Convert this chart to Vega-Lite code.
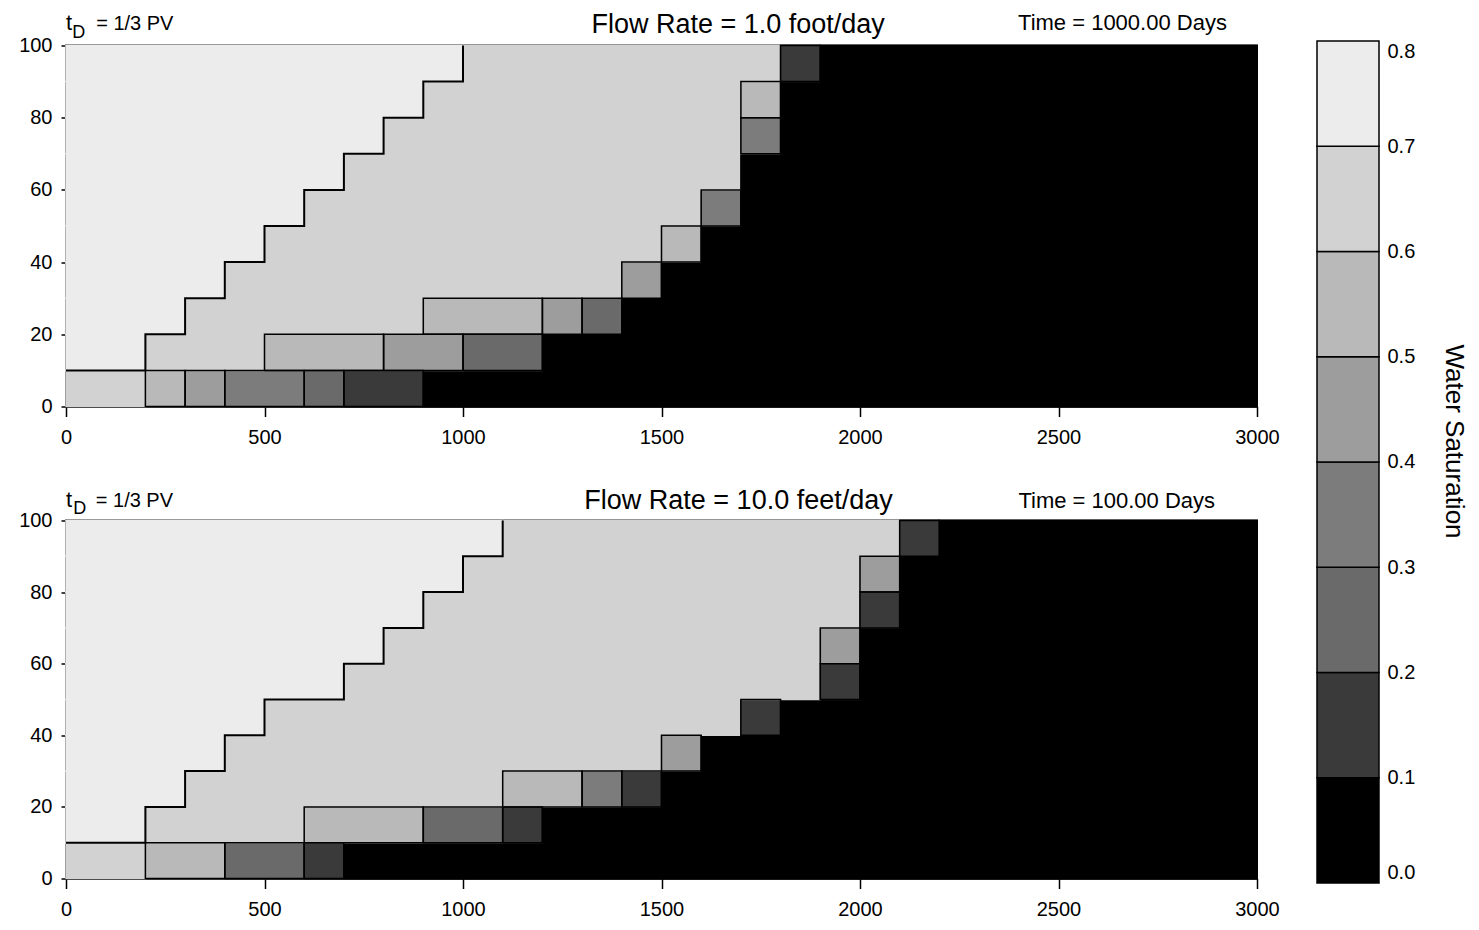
{
  "$schema": "https://vega.github.io/schema/vega-lite/v6.json",
  "background": "white",
  "padding": {"left": 17, "top": 9, "right": 5, "bottom": 5},
  "spacing": 35,
  "center": true,
  "config": {
    "font": "Liberation Sans",
    "view": {"stroke": "black", "strokeWidth": 2},
    "axis": {"grid": false, "domainColor": "black", "domainWidth": 1.5, "tickColor": "black", "tickWidth": 1.5, "labelColor": "black", "labelFontSize": 20, "labelFont": "Liberation Sans", "titleColor": "black", "titleFont": "Liberation Sans", "titleFontWeight": "normal", "zindex": 1},
    "text": {"font": "Liberation Sans", "color": "black"}
  },
  "datasets": {
    "cells": [
      {"p":"t","y0":0,"y1":10,"x0":0,"x1":200,"s":0.65},{"p":"t","y0":0,"y1":10,"x0":200,"x1":300,"s":0.55},{"p":"t","y0":0,"y1":10,"x0":300,"x1":400,"s":0.45},{"p":"t","y0":0,"y1":10,"x0":400,"x1":600,"s":0.35},{"p":"t","y0":0,"y1":10,"x0":600,"x1":700,"s":0.25},{"p":"t","y0":0,"y1":10,"x0":700,"x1":900,"s":0.15},{"p":"t","y0":0,"y1":10,"x0":900,"x1":3000,"s":0.05},
      {"p":"t","y0":10,"y1":20,"x0":0,"x1":200,"s":0.75},{"p":"t","y0":10,"y1":20,"x0":200,"x1":500,"s":0.65},{"p":"t","y0":10,"y1":20,"x0":500,"x1":800,"s":0.55},{"p":"t","y0":10,"y1":20,"x0":800,"x1":1000,"s":0.45},{"p":"t","y0":10,"y1":20,"x0":1000,"x1":1200,"s":0.25},{"p":"t","y0":10,"y1":20,"x0":1200,"x1":3000,"s":0.05},
      {"p":"t","y0":20,"y1":30,"x0":0,"x1":300,"s":0.75},{"p":"t","y0":20,"y1":30,"x0":300,"x1":900,"s":0.65},{"p":"t","y0":20,"y1":30,"x0":900,"x1":1200,"s":0.55},{"p":"t","y0":20,"y1":30,"x0":1200,"x1":1300,"s":0.45},{"p":"t","y0":20,"y1":30,"x0":1300,"x1":1400,"s":0.25},{"p":"t","y0":20,"y1":30,"x0":1400,"x1":3000,"s":0.05},
      {"p":"t","y0":30,"y1":40,"x0":0,"x1":400,"s":0.75},{"p":"t","y0":30,"y1":40,"x0":400,"x1":1400,"s":0.65},{"p":"t","y0":30,"y1":40,"x0":1400,"x1":1500,"s":0.45},{"p":"t","y0":30,"y1":40,"x0":1500,"x1":3000,"s":0.05},
      {"p":"t","y0":40,"y1":50,"x0":0,"x1":500,"s":0.75},{"p":"t","y0":40,"y1":50,"x0":500,"x1":1500,"s":0.65},{"p":"t","y0":40,"y1":50,"x0":1500,"x1":1600,"s":0.55},{"p":"t","y0":40,"y1":50,"x0":1600,"x1":3000,"s":0.05},
      {"p":"t","y0":50,"y1":60,"x0":0,"x1":600,"s":0.75},{"p":"t","y0":50,"y1":60,"x0":600,"x1":1600,"s":0.65},{"p":"t","y0":50,"y1":60,"x0":1600,"x1":1700,"s":0.35},{"p":"t","y0":50,"y1":60,"x0":1700,"x1":3000,"s":0.05},
      {"p":"t","y0":60,"y1":70,"x0":0,"x1":700,"s":0.75},{"p":"t","y0":60,"y1":70,"x0":700,"x1":1700,"s":0.65},{"p":"t","y0":60,"y1":70,"x0":1700,"x1":3000,"s":0.05},
      {"p":"t","y0":70,"y1":80,"x0":0,"x1":800,"s":0.75},{"p":"t","y0":70,"y1":80,"x0":800,"x1":1700,"s":0.65},{"p":"t","y0":70,"y1":80,"x0":1700,"x1":1800,"s":0.35},{"p":"t","y0":70,"y1":80,"x0":1800,"x1":3000,"s":0.05},
      {"p":"t","y0":80,"y1":90,"x0":0,"x1":900,"s":0.75},{"p":"t","y0":80,"y1":90,"x0":900,"x1":1700,"s":0.65},{"p":"t","y0":80,"y1":90,"x0":1700,"x1":1800,"s":0.55},{"p":"t","y0":80,"y1":90,"x0":1800,"x1":3000,"s":0.05},
      {"p":"t","y0":90,"y1":100,"x0":0,"x1":1000,"s":0.75},{"p":"t","y0":90,"y1":100,"x0":1000,"x1":1800,"s":0.65},{"p":"t","y0":90,"y1":100,"x0":1800,"x1":1900,"s":0.15},{"p":"t","y0":90,"y1":100,"x0":1900,"x1":3000,"s":0.05},
      {"p":"b","y0":0,"y1":10,"x0":0,"x1":200,"s":0.65},{"p":"b","y0":0,"y1":10,"x0":200,"x1":400,"s":0.55},{"p":"b","y0":0,"y1":10,"x0":400,"x1":600,"s":0.25},{"p":"b","y0":0,"y1":10,"x0":600,"x1":700,"s":0.15},{"p":"b","y0":0,"y1":10,"x0":700,"x1":3000,"s":0.05},
      {"p":"b","y0":10,"y1":20,"x0":0,"x1":200,"s":0.75},{"p":"b","y0":10,"y1":20,"x0":200,"x1":600,"s":0.65},{"p":"b","y0":10,"y1":20,"x0":600,"x1":900,"s":0.55},{"p":"b","y0":10,"y1":20,"x0":900,"x1":1100,"s":0.25},{"p":"b","y0":10,"y1":20,"x0":1100,"x1":1200,"s":0.15},{"p":"b","y0":10,"y1":20,"x0":1200,"x1":3000,"s":0.05},
      {"p":"b","y0":20,"y1":30,"x0":0,"x1":300,"s":0.75},{"p":"b","y0":20,"y1":30,"x0":300,"x1":1100,"s":0.65},{"p":"b","y0":20,"y1":30,"x0":1100,"x1":1300,"s":0.55},{"p":"b","y0":20,"y1":30,"x0":1300,"x1":1400,"s":0.35},{"p":"b","y0":20,"y1":30,"x0":1400,"x1":1500,"s":0.15},{"p":"b","y0":20,"y1":30,"x0":1500,"x1":3000,"s":0.05},
      {"p":"b","y0":30,"y1":40,"x0":0,"x1":400,"s":0.75},{"p":"b","y0":30,"y1":40,"x0":400,"x1":1500,"s":0.65},{"p":"b","y0":30,"y1":40,"x0":1500,"x1":1600,"s":0.45},{"p":"b","y0":30,"y1":40,"x0":1600,"x1":3000,"s":0.05},
      {"p":"b","y0":40,"y1":50,"x0":0,"x1":500,"s":0.75},{"p":"b","y0":40,"y1":50,"x0":500,"x1":1700,"s":0.65},{"p":"b","y0":40,"y1":50,"x0":1700,"x1":1800,"s":0.15},{"p":"b","y0":40,"y1":50,"x0":1800,"x1":3000,"s":0.05},
      {"p":"b","y0":50,"y1":60,"x0":0,"x1":700,"s":0.75},{"p":"b","y0":50,"y1":60,"x0":700,"x1":1900,"s":0.65},{"p":"b","y0":50,"y1":60,"x0":1900,"x1":2000,"s":0.15},{"p":"b","y0":50,"y1":60,"x0":2000,"x1":3000,"s":0.05},
      {"p":"b","y0":60,"y1":70,"x0":0,"x1":800,"s":0.75},{"p":"b","y0":60,"y1":70,"x0":800,"x1":1900,"s":0.65},{"p":"b","y0":60,"y1":70,"x0":1900,"x1":2000,"s":0.45},{"p":"b","y0":60,"y1":70,"x0":2000,"x1":3000,"s":0.05},
      {"p":"b","y0":70,"y1":80,"x0":0,"x1":900,"s":0.75},{"p":"b","y0":70,"y1":80,"x0":900,"x1":2000,"s":0.65},{"p":"b","y0":70,"y1":80,"x0":2000,"x1":2100,"s":0.15},{"p":"b","y0":70,"y1":80,"x0":2100,"x1":3000,"s":0.05},
      {"p":"b","y0":80,"y1":90,"x0":0,"x1":1000,"s":0.75},{"p":"b","y0":80,"y1":90,"x0":1000,"x1":2000,"s":0.65},{"p":"b","y0":80,"y1":90,"x0":2000,"x1":2100,"s":0.45},{"p":"b","y0":80,"y1":90,"x0":2100,"x1":3000,"s":0.05},
      {"p":"b","y0":90,"y1":100,"x0":0,"x1":1100,"s":0.75},{"p":"b","y0":90,"y1":100,"x0":1100,"x1":2100,"s":0.65},{"p":"b","y0":90,"y1":100,"x0":2100,"x1":2200,"s":0.15},{"p":"b","y0":90,"y1":100,"x0":2200,"x1":3000,"s":0.05}
    ],
    "edge": [
      {"p":"t","i":0,"x0":0,"y0":10},{"p":"t","i":1,"x0":200,"y0":10},{"p":"t","i":2,"x0":200,"y0":20},{"p":"t","i":3,"x0":300,"y0":20},{"p":"t","i":4,"x0":300,"y0":30},{"p":"t","i":5,"x0":400,"y0":30},{"p":"t","i":6,"x0":400,"y0":40},{"p":"t","i":7,"x0":500,"y0":40},{"p":"t","i":8,"x0":500,"y0":50},{"p":"t","i":9,"x0":600,"y0":50},{"p":"t","i":10,"x0":600,"y0":60},{"p":"t","i":11,"x0":700,"y0":60},{"p":"t","i":12,"x0":700,"y0":70},{"p":"t","i":13,"x0":800,"y0":70},{"p":"t","i":14,"x0":800,"y0":80},{"p":"t","i":15,"x0":900,"y0":80},{"p":"t","i":16,"x0":900,"y0":90},{"p":"t","i":17,"x0":1000,"y0":90},{"p":"t","i":18,"x0":1000,"y0":100},
      {"p":"b","i":0,"x0":0,"y0":10},{"p":"b","i":1,"x0":200,"y0":10},{"p":"b","i":2,"x0":200,"y0":20},{"p":"b","i":3,"x0":300,"y0":20},{"p":"b","i":4,"x0":300,"y0":30},{"p":"b","i":5,"x0":400,"y0":30},{"p":"b","i":6,"x0":400,"y0":40},{"p":"b","i":7,"x0":500,"y0":40},{"p":"b","i":8,"x0":500,"y0":50},{"p":"b","i":9,"x0":700,"y0":50},{"p":"b","i":10,"x0":700,"y0":60},{"p":"b","i":11,"x0":800,"y0":60},{"p":"b","i":12,"x0":800,"y0":70},{"p":"b","i":13,"x0":900,"y0":70},{"p":"b","i":14,"x0":900,"y0":80},{"p":"b","i":15,"x0":1000,"y0":80},{"p":"b","i":16,"x0":1000,"y0":90},{"p":"b","i":17,"x0":1100,"y0":90},{"p":"b","i":18,"x0":1100,"y0":100}
    ]
  },
  "hconcat": [
    {
      "bounds": "flush",
      "spacing": 114,
      "vconcat": [
        {
          "width": 1191,
          "height": 361,
          "encoding": {
            "x": {"field": "x0", "type": "quantitative", "scale": {"domain": [0, 3000], "nice": false, "zero": false}, "axis": {"values": [0, 500, 1000, 1500, 2000, 2500, 3000], "format": "d", "tickSize": 10, "labelPadding": 11, "labelFlush": false, "title": null}},
            "y": {"field": "y0", "type": "quantitative", "scale": {"domain": [0, 100], "nice": false, "zero": false}, "axis": {"values": [0, 20, 40, 60, 80, 100], "format": "d", "tickSize": 5, "labelPadding": 9, "title": null}}
          },
          "layer": [
            {"data": {"name": "cells"}, "transform": [{"filter": "datum.p == 't'"}], "mark": {"type": "rect", "strokeWidth": 1.5},
             "encoding": {"x2": {"field": "x1"}, "y2": {"field": "y1"},
               "color": {"field": "s", "type": "quantitative", "scale": {"type": "threshold", "domain": [0.1, 0.2, 0.3, 0.4, 0.5, 0.6, 0.7], "range": ["#000000", "#3a3a3a", "#6a6a6a", "#7c7c7c", "#9d9d9d", "#b9b9b9", "#d2d2d2", "#ececec"]}, "legend": null},
               "stroke": {"field": "s", "type": "quantitative", "scale": {"type": "threshold", "domain": [0.1, 0.2, 0.3, 0.4, 0.5, 0.6, 0.7], "range": ["#000000", "#3a3a3a", "#6a6a6a", "#7c7c7c", "#9d9d9d", "#b9b9b9", "#d2d2d2", "#ececec"]}, "legend": null}}},
            {"data": {"name": "cells"}, "transform": [{"filter": "datum.p == 't' && datum.s > 0.1 && datum.s < 0.6"}], "mark": {"type": "rect", "filled": false, "stroke": "black", "strokeWidth": 1.5},
             "encoding": {"x2": {"field": "x1"}, "y2": {"field": "y1"}}},
            {"data": {"name": "edge"}, "transform": [{"filter": "datum.p == 't'"}], "mark": {"type": "line", "color": "black", "strokeWidth": 2},
             "encoding": {"order": {"field": "i", "type": "quantitative"}}},
            {"data": {"values": [{"x0": 0, "y0": 104.4, "label": "t"}]}, "mark": {"type": "text", "align": "left", "baseline": "alphabetic", "fontSize": 22}, "encoding": {"text": {"field": "label"}}},
            {"data": {"values": [{"x0": 16, "y0": 102.2, "label": "D"}]}, "mark": {"type": "text", "align": "left", "baseline": "alphabetic", "fontSize": 18}, "encoding": {"text": {"field": "label"}}},
            {"data": {"values": [{"x0": 76, "y0": 104.4, "label": "= 1/3 PV"}]}, "mark": {"type": "text", "align": "left", "baseline": "alphabetic", "fontSize": 20}, "encoding": {"text": {"field": "label"}}},
            {"data": {"values": [{"x0": 1693, "y0": 103.6, "label": "Flow Rate = 1.0 foot/day"}]}, "mark": {"type": "text", "align": "center", "baseline": "alphabetic", "fontSize": 27}, "encoding": {"text": {"field": "label"}}},
            {"data": {"values": [{"x0": 2398, "y0": 104.4, "label": "Time = 1000.00 Days"}]}, "mark": {"type": "text", "align": "left", "baseline": "alphabetic", "fontSize": 22}, "encoding": {"text": {"field": "label"}}}
          ]
        },
        {
          "width": 1191,
          "height": 358,
          "encoding": {
            "x": {"field": "x0", "type": "quantitative", "scale": {"domain": [0, 3000], "nice": false, "zero": false}, "axis": {"values": [0, 500, 1000, 1500, 2000, 2500, 3000], "format": "d", "tickSize": 10, "labelPadding": 11, "labelFlush": false, "title": null}},
            "y": {"field": "y0", "type": "quantitative", "scale": {"domain": [0, 100], "nice": false, "zero": false}, "axis": {"values": [0, 20, 40, 60, 80, 100], "format": "d", "tickSize": 5, "labelPadding": 9, "title": null}}
          },
          "layer": [
            {"data": {"name": "cells"}, "transform": [{"filter": "datum.p == 'b'"}], "mark": {"type": "rect", "strokeWidth": 1.5},
             "encoding": {"x2": {"field": "x1"}, "y2": {"field": "y1"},
               "color": {"field": "s", "type": "quantitative", "scale": {"type": "threshold", "domain": [0.1, 0.2, 0.3, 0.4, 0.5, 0.6, 0.7], "range": ["#000000", "#3a3a3a", "#6a6a6a", "#7c7c7c", "#9d9d9d", "#b9b9b9", "#d2d2d2", "#ececec"]}, "legend": null},
               "stroke": {"field": "s", "type": "quantitative", "scale": {"type": "threshold", "domain": [0.1, 0.2, 0.3, 0.4, 0.5, 0.6, 0.7], "range": ["#000000", "#3a3a3a", "#6a6a6a", "#7c7c7c", "#9d9d9d", "#b9b9b9", "#d2d2d2", "#ececec"]}, "legend": null}}},
            {"data": {"name": "cells"}, "transform": [{"filter": "datum.p == 'b' && datum.s > 0.1 && datum.s < 0.6"}], "mark": {"type": "rect", "filled": false, "stroke": "black", "strokeWidth": 1.5},
             "encoding": {"x2": {"field": "x1"}, "y2": {"field": "y1"}}},
            {"data": {"name": "edge"}, "transform": [{"filter": "datum.p == 'b'"}], "mark": {"type": "line", "color": "black", "strokeWidth": 2},
             "encoding": {"order": {"field": "i", "type": "quantitative"}}},
            {"data": {"values": [{"x0": 0, "y0": 103.9, "label": "t"}]}, "mark": {"type": "text", "align": "left", "baseline": "alphabetic", "fontSize": 22}, "encoding": {"text": {"field": "label"}}},
            {"data": {"values": [{"x0": 18, "y0": 101.7, "label": "D"}]}, "mark": {"type": "text", "align": "left", "baseline": "alphabetic", "fontSize": 18}, "encoding": {"text": {"field": "label"}}},
            {"data": {"values": [{"x0": 75, "y0": 103.9, "label": "= 1/3 PV"}]}, "mark": {"type": "text", "align": "left", "baseline": "alphabetic", "fontSize": 20}, "encoding": {"text": {"field": "label"}}},
            {"data": {"values": [{"x0": 1694, "y0": 103.1, "label": "Flow Rate = 10.0 feet/day"}]}, "mark": {"type": "text", "align": "center", "baseline": "alphabetic", "fontSize": 27}, "encoding": {"text": {"field": "label"}}},
            {"data": {"values": [{"x0": 2399, "y0": 103.6, "label": "Time = 100.00 Days"}]}, "mark": {"type": "text", "align": "left", "baseline": "alphabetic", "fontSize": 22}, "encoding": {"text": {"field": "label"}}}
          ]
        }
      ]
    },
    {
      "width": 62,
      "height": 884,
      "view": {"stroke": null},
      "data": {"values": [
        {"a": 0, "b": 1, "lo": 0.0, "hi": 0.1, "s": 0.05},
        {"a": 0, "b": 1, "lo": 0.1, "hi": 0.2, "s": 0.15},
        {"a": 0, "b": 1, "lo": 0.2, "hi": 0.3, "s": 0.25},
        {"a": 0, "b": 1, "lo": 0.3, "hi": 0.4, "s": 0.35},
        {"a": 0, "b": 1, "lo": 0.4, "hi": 0.5, "s": 0.45},
        {"a": 0, "b": 1, "lo": 0.5, "hi": 0.6, "s": 0.55},
        {"a": 0, "b": 1, "lo": 0.6, "hi": 0.7, "s": 0.65},
        {"a": 0, "b": 1, "lo": 0.7, "hi": 0.8, "s": 0.75}
      ]},
      "mark": {"type": "rect", "stroke": "black", "strokeWidth": 1.5},
      "encoding": {
        "x": {"field": "a", "type": "quantitative", "scale": {"domain": [0, 1], "nice": false, "zero": false}, "axis": null},
        "x2": {"field": "b"},
        "y": {"field": "lo", "type": "quantitative", "scale": {"domain": [-0.04, 0.8], "nice": false, "zero": false}, "axis": {"orient": "right", "values": [0, 0.1, 0.2, 0.3, 0.4, 0.5, 0.6, 0.7, 0.8], "format": ".1f", "ticks": false, "labelPadding": 8, "labelFlush": 50, "domain": false, "title": "Water Saturation", "titleFontSize": 26, "titlePadding": 26, "titleY": 400}},
        "y2": {"field": "hi"},
        "color": {"field": "s", "type": "quantitative", "scale": {"type": "threshold", "domain": [0.1, 0.2, 0.3, 0.4, 0.5, 0.6, 0.7], "range": ["#000000", "#3a3a3a", "#6a6a6a", "#7c7c7c", "#9d9d9d", "#b9b9b9", "#d2d2d2", "#ececec"]}, "legend": null}
      }
    }
  ]
}
